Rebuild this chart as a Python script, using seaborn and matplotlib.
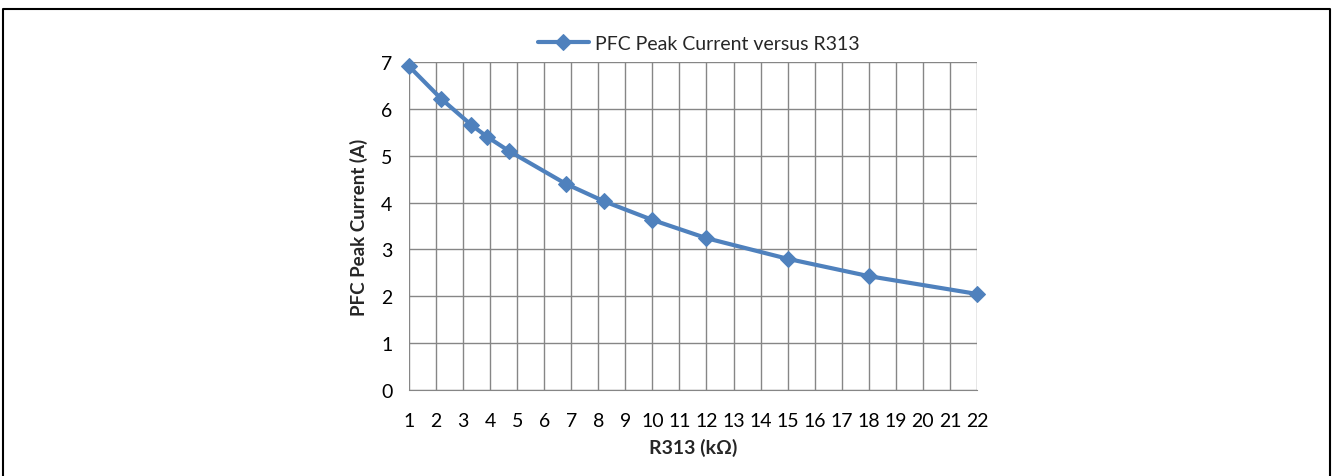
import seaborn as sns
import matplotlib.pyplot as plt
import pandas as pd
from matplotlib.lines import Line2D

# R313 resistor values (kOhm) and measured PFC peak current (A)
r313_kohm = [1, 2.2, 3.3, 3.9, 4.7, 6.8, 8.2, 10, 12, 15, 18, 22]
peak_current = [6.91, 6.21, 5.66, 5.40, 5.10, 4.40, 4.03, 3.63, 3.24, 2.80, 2.43, 2.05]
x_ticks = list(range(1, 23))
y_ticks = list(range(0, 8))

df = pd.DataFrame({'R313': r313_kohm, 'Ipk': peak_current})

sns.set_style('white')
plt.rcParams['font.family'] = ['Lato', 'DejaVu Sans']

fig = plt.figure(figsize=(13.33, 4.77), dpi=100)
ax = fig.add_axes([0.3068, 0.1803, 0.4261, 0.6876])

blue = '#4F81BD'
sns.lineplot(data=df, x='R313', y='Ipk', ax=ax, color=blue, linewidth=3,
             marker='D', markersize=8.5, markeredgecolor=blue, clip_on=False,
             label='PFC Peak Current versus R313')

ax.set_xlim(1, 22)
ax.set_ylim(0, 7)
ax.set_xticks(x_ticks)
ax.set_yticks(y_ticks)
ax.grid(True, color='#868686', linewidth=1)
ax.set_axisbelow(True)
for side in ['top', 'right', 'left']:
    ax.spines[side].set_visible(False)
ax.spines['bottom'].set_color('#868686')
ax.tick_params(axis='both', length=0, labelsize=14, colors='black')
ax.tick_params(axis='x', pad=16)
ax.tick_params(axis='y', pad=12)

ax.set_xlabel('R313 (kΩ)', fontsize=14, fontweight='bold', labelpad=6)
ax.set_ylabel('PFC Peak Current (A)', fontsize=13.5, fontweight='bold', labelpad=9)

ax.legend(loc='lower center', bbox_to_anchor=(0.51, 1.0), frameon=False,
          fontsize=14, handlelength=2.6, handletextpad=0.3, borderaxespad=0.1)

# frame around the figure (top, left, right)
fig.add_artist(Line2D([3 / 1333, 3 / 1333, 1330 / 1333, 1330 / 1333],
                      [0, 1 - 10 / 477, 1 - 10 / 477, 0],
                      transform=fig.transFigure, color='black', linewidth=1.5))

fig.savefig('out.png', dpi=100)
